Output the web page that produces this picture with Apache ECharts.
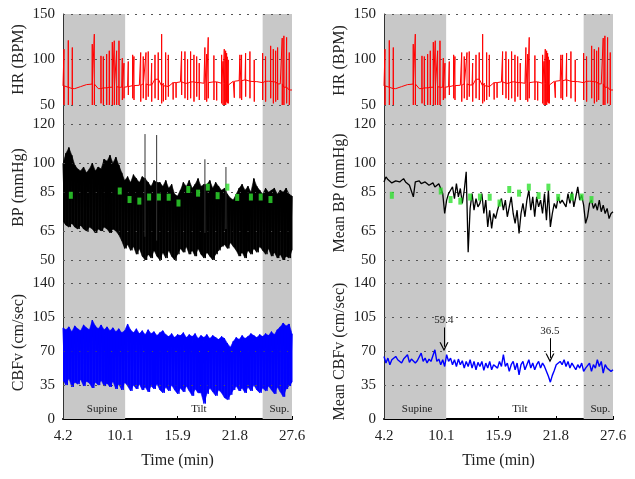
<!DOCTYPE html>
<html>
<head>
<meta charset="utf-8">
<script src="https://cdn.jsdelivr.net/npm/echarts@6/dist/echarts.min.js"></script>
<style>
html,body{margin:0;padding:0;background:#fff;}
#main{width:635px;height:479px;}
</style>
</head>
<body>
<div id="main"></div>
<script>
// time axis (min)
var T0 = 4.2, T1 = 27.6;
var xTickVals = [4.2, 10.05, 15.9, 21.75, 27.6];
var xTickLabels = ['4.2', '10.1', '15.9', '21.8', '27.6'];
var hrTicks = [50, 100, 150];
var bpTicks = [50, 65, 85, 100, 120];
var cbfTicks = [0, 35, 70, 105, 140];

// protocol phases: name, start, end
var phases = [['Supine', 4.2, 10.55], ['Tilt', 10.55, 24.6], ['Sup.', 24.6, 27.6]];

// HR baseline, one value every 0.6 min
var hrStep = 0.6;
var hrBase = [71, 69.5, 68, 70.2, 72.4, 73, 68, 68.8, 69.5, 70.2, 69.5, 70.2, 71.3, 71.7, 73.2, 72, 78.3, 71, 70.2, 74.6,
    75.4, 73.9, 75.4, 74.6, 73.9, 74.6, 75.4, 73.9, 72, 76.1, 76.8, 77.6, 76.1, 75.7, 74.6, 76.1, 75.4, 73.2, 69.5, 66.5];
// HR spikes: time, top, bottom
var hrSpikes = [
    [4.30, 111.4, 50], [4.74, 121, 50], [5.15, 113.2, 50], [7.19, 116.9, 50], [7.40, 127.9, 50],
    [8.08, 104, 51.8], [8.32, 103.3, 50], [8.66, 105.9, 50], [8.93, 109.6, 50], [9.24, 119.1, 50],
    [9.44, 120.6, 50], [9.68, 109.6, 50], [9.92, 120.6, 50], [10.26, 101.5, 55.5], [10.43, 96, 57.4],
    [10.87, 97.8, 61], [11.32, 105.1, 57.4], [11.45, 103.3, 55.5], [12.14, 107.7, 53.7], [12.40, 103.3, 57.4],
    [12.68, 107.7, 55.5], [12.91, 108.8, 59.2], [13.26, 96, 53.7], [13.60, 105.1, 57.4], [13.93, 107.7, 55.5],
    [14.28, 127.9, 51.8], [14.45, 74, 54], [14.69, 107.7, 55.5], [14.96, 105.1, 59.2], [15.45, 76, 56],
    [15.75, 75, 58], [16.32, 108.8, 61], [16.66, 108.8, 57.4], [16.93, 100.4, 55.5], [17.24, 108.8, 57.4],
    [17.58, 105.1, 53.7], [17.86, 103.3, 59.2], [18.12, 96, 55.5], [18.70, 113.2, 55.5], [18.88, 105.9, 53.7],
    [19.04, 124.3, 57.4], [19.62, 104.4, 55.5], [19.90, 76, 55], [20.41, 105.1, 51.8], [20.55, 98, 50],
    [20.68, 111.4, 50], [20.82, 109.6, 50], [20.92, 107, 53.7], [20.98, 103, 52], [21.09, 99.6, 51.8],
    [21.70, 77, 58], [22.28, 105.1, 57.4], [22.45, 105.1, 55.5], [22.86, 107, 59.2], [23.30, 108.8, 57.4],
    [23.74, 99.6, 53.7], [24.60, 107, 55.5], [24.90, 103.3, 53.7], [25.42, 115, 57.4], [25.69, 111.4, 51.8],
    [25.93, 109.6, 53.7], [26.13, 113.2, 55.5], [26.60, 123.5, 50], [26.77, 126, 50], [27.05, 124.3, 51.8],
    [27.32, 107.7, 50]
];

// beat-to-beat envelopes, one value every 0.3 min
var envStep = 0.3;
var bpHi = [100, 105, 108, 104, 99, 97, 96, 98, 95, 97,
    100, 96, 98, 97, 102, 101, 104, 100, 103, 99,
    95, 91, 93, 90, 94, 92, 90, 93, 92, 90,
    88, 91, 90, 90, 88, 91, 87, 89, 84, 83,
    86, 90, 88, 91, 87, 89, 92, 88, 89, 89,
    91, 87, 90, 88, 86, 87, 84, 82, 81, 84,
    87, 89, 86, 88, 85, 92, 88, 86, 84, 87,
    85, 86, 87, 84, 86, 85, 87, 84, 83];
var bpLo = [70, 68, 67, 69, 67, 66, 68, 66, 65, 67,
    66, 64, 66, 65, 67, 66, 64, 66, 65, 63,
    60, 56, 58, 55, 57, 53, 56, 52, 50, 53,
    51, 55, 52, 50, 54, 51, 55, 52, 50, 53,
    56, 54, 57, 53, 55, 52, 56, 53, 51, 54,
    52, 50, 53, 55, 57, 58, 56, 59, 57, 55,
    52, 54, 51, 55, 53, 56, 54, 57, 55, 53,
    56, 52, 54, 51, 53, 50, 52, 51, 55];
// isolated tall BP beats: time, top, bottom
var bpSpikes = [[12.58, 115, 62], [13.77, 114.5, 60], [18.70, 102, 64], [20.85, 98, 66]];
var cbfHi = [94, 92, 95, 90, 96, 93, 91, 97, 94, 92,
    102, 96, 93, 97, 92, 95, 91, 94, 90, 93,
    89, 91, 98, 92, 89, 93, 88, 91, 87, 92,
    88, 90, 86, 89, 91, 87, 85, 88, 84, 87,
    86, 89, 84, 87, 85, 88, 83, 86, 84, 87,
    83, 86, 84, 82, 85, 83, 78, 74, 80, 84,
    82, 86, 83, 85, 88, 86, 84, 87, 85, 88,
    86, 90, 87, 92, 95, 99, 96, 98, 88];
var cbfLo = [40, 35, 42, 33, 38, 36, 41, 34, 39, 37,
    32, 38, 35, 40, 34, 37, 33, 39, 31, 36,
    30, 38, 34, 29, 35, 31, 36, 30, 33, 28,
    34, 31, 36, 30, 27, 33, 29, 35, 30, 26,
    32, 28, 34, 29, 24, 31, 27, 27, 16, 26,
    32, 28, 24, 30, 27, 22, 20, 25, 30, 34,
    29, 32, 27, 33, 29, 35, 30, 27, 32, 29,
    34, 30, 26, 33, 28, 23, 31, 34, 38];

// mean traces, one value every 0.2 min
var meanStep = 0.2;
var meanBp = [90.3, 92.9, 91.5, 91.2, 89.8, 89.4, 90.8, 91.5, 90.3, 89.4,
    92, 90.3, 89.4, 88.6, 87.7, 82.6, 90.3, 89.4, 90.8, 89.4,
    88.6, 90.3, 89.8, 88.6, 89.4, 89.8, 87.7, 88.1, 89.4, 89.8,
    84.3, 74, 80.9, 84.3, 86, 87.7, 81.7, 89.4, 82.6, 86.9,
    79.2, 86, 95.5, 54, 76.6, 84.3, 75.7, 81.7, 77.4, 79.2,
    84.3, 74, 80.9, 67.1, 75.7, 66.3, 74, 71.4, 75.7, 79.2,
    81.7, 75.7, 80.9, 72.3, 77.4, 82.6, 74, 68.9, 75.7, 63.7,
    74, 79.2, 72.3, 80.9, 86, 75.7, 82.6, 72.3, 82.6, 77.4,
    80.9, 74, 84.3, 70.6, 86, 67.1, 74, 79.2, 76.6, 82.6,
    79.2, 80.9, 81.7, 77.4, 84.3, 79.2, 85.2, 77.4, 82.6, 87.7,
    80.9, 83.4, 78.3, 68.9, 72.3, 79.2, 80.9, 76.6, 79.2, 75.7,
    80.9, 74.9, 78.3, 74, 76.6, 71.4, 74, 74.9];
var meanCbf = [64.5, 57.7, 62.8, 56, 61.1, 59.4, 64.5, 61.1, 62.8, 57.7,
    61.8, 60.1, 66.3, 58.4, 61.8, 62.8, 57.7, 60.1, 61.8, 68,
    59.4, 62.8, 57.7, 61.8, 59.4, 61.1, 71.4, 59.4, 61.8, 56,
    61.1, 54.2, 66.3, 59.4, 62.8, 56, 61.1, 54.2, 61.8, 56,
    60.1, 52.5, 59.4, 54.2, 61.1, 52.5, 59.4, 50.8, 58.4, 54.2,
    59.4, 50.1, 57.7, 52.5, 59.4, 50.8, 56, 57.7, 52.5, 59.4,
    54.2, 66.3, 54.2, 57.7, 49.1, 56, 59.4, 50.8, 57.7, 45.6,
    56, 59.4, 50.8, 56, 61.1, 52.5, 57.7, 50.8, 56, 59.4,
    52.5, 57.7, 54.2, 55, 44, 38, 45, 50, 56, 54.2,
    59.4, 56, 61.1, 54.2, 59.4, 52.5, 57.7, 54.2, 50.8, 56,
    52.5, 57.7, 49.1, 52.5, 50.8, 57.7, 49.1, 56, 52.5, 61.1,
    54.2, 59.4, 47.4, 56, 52.5, 54.2, 49.1, 50.8];

// green markers on the BP panels
var markTimes = [5.0, 10.0, 11.0, 12.0, 13.0, 14.0, 15.0, 16.0, 17.0, 18.0, 19.0, 20.0, 21.0, 22.0, 23.4, 24.4, 25.4];
var markVals = [83.4, 85.6, 81.2, 80.4, 82.5, 82.5, 82.4, 79.4, 86.4, 84.5, 87.6, 83.2, 87.6, 82.3, 82.5, 82.5, 81.2];

// arrows on mean CBFv: label, time, from, to
var arrows = [['59.4', 10.33, 94.4, 74.5], ['36.5', 21.16, 83.4, 63]];

var FONT = 'Liberation Serif';
var GRAY = '#c8c8c8';

function hrData() {
    var pts = [];
    hrBase.forEach(function (v, i) { pts.push([T0 + i * hrStep, v]); });
    hrSpikes.forEach(function (s) {
        var b = hrBase[Math.round((s[0] - T0) / hrStep)];
        pts.push([s[0] - 0.01, b], [s[0], s[1]], [s[0] + 0.005, s[2]], [s[0] + 0.015, b]);
    });
    pts.sort(function (a, b) { return a[0] - b[0]; });
    return pts;
}

// alternate high / low values to draw the beat-to-beat texture
function zigzag(hi, lo) {
    var pts = [];
    for (var i = 0; i < hi.length; i++) {
        pts.push([T0 + i * envStep, hi[i]]);
        pts.push([Math.min(T0 + (i + 0.5) * envStep, T1), lo[i]]);
    }
    return pts;
}

// solid fill between the low and the high envelope, plus the zigzag on top
function bandSeries(gi, hi, lo, color) {
    return [{
        type: 'custom', xAxisIndex: gi, yAxisIndex: gi, z: 4, silent: true, clip: true,
        data: hi.map(function (v, i) { return [T0 + i * envStep, v, lo[i]]; }),
        encode: {x: 0, y: [1, 2]},
        renderItem: function (params, api) {
            var i = params.dataIndex;
            if (i >= hi.length - 1) return null;
            var ta = T0 + i * envStep, tb = T0 + (i + 1) * envStep;
            return {
                type: 'polygon',
                shape: {points: [api.coord([ta, hi[i]]), api.coord([tb, hi[i + 1]]), api.coord([tb, lo[i + 1]]), api.coord([ta, lo[i]])]},
                style: {fill: color, stroke: color, lineWidth: 0.6}
            };
        }
    }, {
        type: 'line', xAxisIndex: gi, yAxisIndex: gi, showSymbol: false, z: 5, silent: true,
        lineStyle: {color: color, width: 1}, data: zigzag(hi, lo)
    }];
}

function spikeData(list) {
    var pts = [];
    list.forEach(function (s) {
        pts.push([s[0], s[2]], [s[0], s[1]], [s[0] + 0.01, null]);
    });
    return pts;
}

function meanData(vals) {
    return vals.map(function (v, i) { return [T0 + i * meanStep, v]; });
}

var markData = markTimes.map(function (t, i) { return [t, markVals[i]]; });

var cols = [63, 384];
var rows = [
    {top: 14, height: 91, min: 50, max: 150, ticks: hrTicks, lines: hrTicks, names: ['HR (BPM)', 'HR (BPM)'], shift: [0, 2]},
    {top: 105, height: 155, min: 50, max: 130, ticks: bpTicks, lines: bpTicks, names: ['BP (mmHg)', 'Mean BP (mmHg)'], shift: [10, 21]},
    {top: 260, height: 159, min: 0, max: 164, ticks: cbfTicks, lines: [35, 70, 105, 140], names: ['CBFv (cm/sec)', 'Mean CBFv (cm/sec)'], shift: [6, 24]}
];
// phase label nudges per column
var phaseOffsets = [[8, 5, 2], [2, 5, 2]];

var grids = [], xAxes = [], yAxes = [], series = [];

cols.forEach(function (left, c) {
    rows.forEach(function (r, ri) {
        var gi = grids.length;
        var bottomRow = ri === 2;
        grids.push({left: left, top: r.top, width: 229, height: r.height, outerBoundsMode: 'none'});
        xAxes.push({
            type: 'value', gridIndex: gi, min: T0, max: T1, show: bottomRow,
            axisLine: {show: true, onZero: false, lineStyle: {color: '#000', width: 2}},
            axisTick: {show: true, inside: true, length: 3, customValues: xTickVals, lineStyle: {color: '#000'}},
            axisLabel: {
                customValues: xTickVals, fontFamily: FONT, fontSize: 15, color: '#222', margin: 10,
                formatter: function (v) {
                    for (var i = 0; i < xTickVals.length; i++) {
                        if (Math.abs(v - xTickVals[i]) < 0.01) return xTickLabels[i];
                    }
                    return '';
                }
            },
            splitLine: {show: false},
            name: bottomRow ? 'Time (min)' : '', nameLocation: 'middle', nameGap: 34, nameMoveOverlap: false,
            nameTextStyle: {fontFamily: FONT, fontSize: 16, color: '#222'}
        });
        yAxes.push({
            type: 'value', gridIndex: gi, min: r.min, max: r.max, z: 3,
            axisLine: {show: true, onZero: false, lineStyle: {color: '#333', width: 1}},
            axisTick: {show: false},
            axisLabel: {customValues: r.ticks, fontFamily: FONT, fontSize: 15, color: '#222', margin: 8},
            splitLine: {show: false},
            name: r.names[c], nameLocation: 'middle', nameGap: 36, nameMoveOverlap: false,
            nameTextStyle: {fontFamily: FONT, fontSize: 16, color: '#222', padding: [0, r.shift[c], 0, 0]}
        });

        // gray phase bands
        series.push({
            type: 'line', xAxisIndex: gi, yAxisIndex: gi, data: [], z: 1, silent: true,
            markArea: {
                silent: true,
                label: {show: bottomRow, position: 'insideBottom', distance: 4, fontFamily: FONT, fontSize: 11, color: '#222'},
                data: phases.map(function (p, pi) {
                    return [{
                        name: p[0], xAxis: p[1],
                        label: {offset: [phaseOffsets[c][pi], 0]},
                        itemStyle: {color: p[0] === 'Tilt' ? 'rgba(0,0,0,0)' : GRAY}
                    }, {xAxis: p[2]}];
                })
            }
        });
        // dotted grid lines
        series.push({
            type: 'line', xAxisIndex: gi, yAxisIndex: gi, data: [], z: 3, silent: true,
            markLine: {
                silent: true, symbol: ['none', 'none'], label: {show: false},
                lineStyle: {color: '#555', type: [2, 6], width: 1},
                data: r.lines.map(function (v) { return {yAxis: v}; })
            }
        });

        var line = {type: 'line', xAxisIndex: gi, yAxisIndex: gi, showSymbol: false, z: 5, silent: true};
        if (ri === 0) {
            series.push(Object.assign({}, line, {data: hrData(), lineStyle: {color: '#ff0000', width: 1}}));
        } else if (ri === 1) {
            if (c === 0) {
                series = series.concat(bandSeries(gi, bpHi, bpLo, '#000'));
                series.push(Object.assign({}, line, {data: spikeData(bpSpikes), lineStyle: {color: '#333', width: 1}}));
            } else {
                series.push(Object.assign({}, line, {data: meanData(meanBp), lineStyle: {color: '#000', width: 1.3}}));
            }
            series.push({
                type: 'scatter', xAxisIndex: gi, yAxisIndex: gi, z: 6, silent: true,
                symbol: 'rect', symbolSize: [4, 7], itemStyle: {color: '#2fe02f'}, data: markData
            });
        } else {
            if (c === 0) {
                series = series.concat(bandSeries(gi, cbfHi, cbfLo, '#0000ff'));
            } else {
                series.push(Object.assign({}, line, {data: meanData(meanCbf), lineStyle: {color: '#0000ff', width: 1.4}}));
                series.push({
                    type: 'line', xAxisIndex: gi, yAxisIndex: gi, data: [], z: 7, silent: true,
                    markLine: {
                        silent: true,
                        symbol: ['none', 'path://M5,0L10,9L8.6,9L5,2.6L1.4,9L0,9Z'], symbolSize: 9,
                        lineStyle: {color: '#000', type: 'solid', width: 1},
                        label: {show: true, position: 'start', distance: 2, fontFamily: FONT, fontSize: 11, color: '#222'},
                        data: arrows.map(function (a) {
                            return [{coord: [a[1], a[2]], label: {formatter: a[0]}}, {coord: [a[1], a[3]]}];
                        })
                    }
                });
            }
        }
    });
});

var chart = echarts.init(document.getElementById('main'));
chart.setOption({
    animation: false,
    backgroundColor: '#fff',
    textStyle: {fontFamily: FONT},
    grid: grids,
    xAxis: xAxes,
    yAxis: yAxes,
    series: series
});
</script>
</body>
</html>
